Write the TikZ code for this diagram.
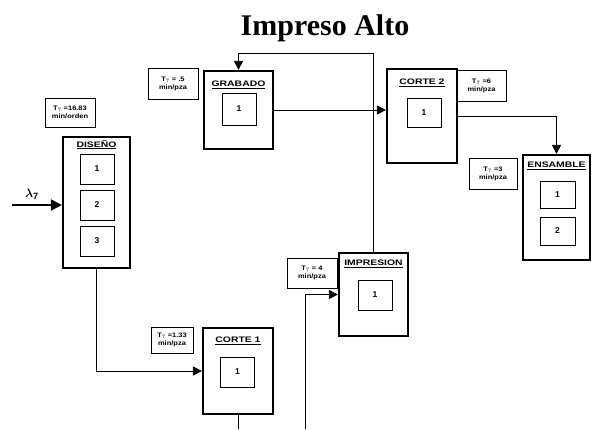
\documentclass[tikz,border=0pt]{standalone}
\usepackage{fontspec}
\usepackage{amsmath,amssymb}
\setmainfont{Liberation Sans}
\newfontfamily\titlefont{Liberation Serif}
\newfontfamily\ancho[FakeStretch=1.3]{Liberation Sans}
\newfontfamily\chico[FakeStretch=1.15]{Liberation Sans}
\usetikzlibrary{arrows.meta,positioning}

\begin{document}
\begin{tikzpicture}[
  x=1pt,y=-1pt,
  estacion/.style={draw,line width=2.2pt,inner sep=0pt},
  servidor/.style={draw,line width=0.7pt,inner sep=0pt,minimum width=34pt,minimum height=30pt,font=\bfseries\fontsize{8.5}{9}\selectfont},
  etiq/.style={inner sep=0pt,font=\ancho\bfseries\fontsize{8}{9}\selectfont},
  tiempo/.style={draw,line width=0.6pt,inner sep=1pt,align=center,font=\chico\bfseries\fontsize{6.5}{8}\selectfont},
  arr/.style={-{Triangle[length=9pt,width=9pt]},line width=0.7pt},
  linea/.style={line width=0.7pt},
]
\useasboundingbox (0,0) rectangle (592,429);

\node[font=\titlefont\bfseries\fontsize{30}{32}\selectfont,anchor=base] (titulo) at (325,35) {Impreso Alto};

% estaciones
\node[estacion,minimum width=67pt,minimum height=131pt] (disenio) at (96.5,202.5) {};
\node[estacion,minimum width=70pt,minimum height=86pt] (corteA) at (238,371) {};
\node[estacion,minimum width=69pt,minimum height=78pt] (grabado) at (238.5,110) {};
\node[estacion,minimum width=70pt,minimum height=94pt] (corteB) at (422,116) {};
\node[estacion,minimum width=69pt,minimum height=83pt] (impresion) at (373.5,294.5) {};
\node[estacion,minimum width=67pt,minimum height=105pt] (ensamble) at (556.5,207.5) {};

\node[etiq,below=4pt of disenio.north] {\underline{DISEÑO}};
\node[etiq,below=10pt of corteA.north] {\underline{CORTE 1}};
\node[etiq,below=11pt of grabado.north] {\underline{GRABADO}};
\node[etiq,below=11pt of corteB.north] {\underline{CORTE 2}};
\node[etiq,below=8pt of impresion.north] {\underline{IMPRESION}};
\node[etiq,below=8pt of ensamble.north] {\underline{ENSAMBLE}};

% servidores
\node[servidor] (d1) at (97,169) {1};
\node[servidor] (d2) at (97,205) {2};
\node[servidor] (d3) at (97,241) {3};
\node[servidor] (ca1) at (237.5,372) {1};
\node[servidor,minimum height=32pt] (g1) at (239,109) {1};
\node[servidor,minimum height=29pt] (cb1) at (424,112.5) {1};
\node[servidor] (i1) at (375,295) {1};
\node[servidor,minimum width=35pt,minimum height=27pt] (e1) at (557.5,194.5) {1};
\node[servidor,minimum width=35pt,minimum height=28pt] (e2) at (557.5,231) {2};

% tiempos
\node[tiempo,minimum width=50pt,minimum height=29pt] (tDis) at (70,112.5) {T$_7$ =16.83\\min/orden};
\node[tiempo,minimum width=42pt,minimum height=26pt] (tCorA) at (172,340) {T$_7$ =1.33\\min/pza};
\node[tiempo,minimum width=50pt,minimum height=31pt] (tGrab) at (173,83.5) {T$_7$ = .5\\min/pza};
\node[tiempo,minimum width=49pt,minimum height=31pt] (tCorB) at (481.5,85.5) {T$_7$ =6\\min/pza};
\node[tiempo,minimum width=50pt,minimum height=30pt] (tImp) at (312,273) {T$_7$ = 4\\min/pza};
\node[tiempo,minimum width=48pt,minimum height=31pt] (tEns) at (493,173.5) {T$_7$ =3\\min/pza};

% llegadas
\coordinate (llegada) at (12,205);
\coordinate (salidaA) at (238,429);
\coordinate (entradaI) at (305,429);
\coordinate (retorno) at (373.5,53);

\draw[-{Triangle[length=11pt,width=11pt]},line width=2.2pt] (llegada) -- (llegada -| disenio.west)
  node[pos=0.4,above=1pt,font=\fontsize{13}{14}\selectfont] {$\boldsymbol{\lambda}_{\mathbf{7}}$};
\draw[arr] (disenio.south) |- (corteA.west);
\draw[linea] (corteA.south) -- (salidaA);
\draw[arr] (entradaI) |- (impresion.west);
\draw[arr] (impresion.north) -- (retorno) -| (grabado.north);
\draw[arr] (grabado.east) -- (grabado.east -| corteB.west);
\draw[arr] (corteB.east) -| (ensamble.north);
\end{tikzpicture}
\end{document}
